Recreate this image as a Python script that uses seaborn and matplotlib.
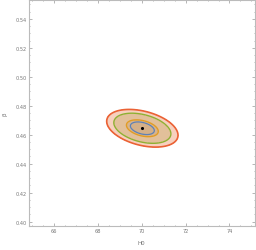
import numpy as np
import matplotlib
matplotlib.use("Agg")
import matplotlib.pyplot as plt
import seaborn as sns

# best-fit point and Gaussian shape of the posterior
center_h0 = [70.03]
center_beta = [0.4645]
sigma_h0 = 0.5
sigma_beta = 0.004
rho = -0.37

# Mahalanobis radii of the four contours (inner -> outer)
contour_radii = [1.09, 1.45, 2.6, 3.25]
line_colors = ["#5E81B5", "#E19C24", "#8FB032", "#EB6235"]
line_widths = [0.9, 1.0, 1.0, 1.2]
fill_colors = ["#D4B088", "#D8B48C", "#E2C09A", "#F7D0BE"]

x_ticks = [66, 68, 70, 72, 74]
y_ticks = [0.40, 0.42, 0.44, 0.46, 0.48, 0.50, 0.52, 0.54]
x_range = (64.85, 75.15)
y_range = (0.397, 0.553)

sns.set_style("ticks")
plt.rcParams["font.family"] = ["DejaVu Sans"]

fig = plt.figure(figsize=(2.56, 2.51), dpi=100)
ax = fig.add_axes([0.112, 0.0956, 0.883, 0.9])

gx = np.linspace(*x_range, 600)
gy = np.linspace(*y_range, 600)
X, Y = np.meshgrid(gx, gy)
u = (X - center_h0[0]) / sigma_h0
v = (Y - center_beta[0]) / sigma_beta
dist = np.sqrt((u**2 - 2 * rho * u * v + v**2) / (1 - rho**2))

ax.contourf(X, Y, dist, levels=[0] + contour_radii, colors=fill_colors)
for r, c, w in zip(contour_radii, line_colors, line_widths):
    ax.contour(X, Y, dist, levels=[r], colors=[c], linewidths=w)

sns.scatterplot(x=center_h0, y=center_beta, color="black", s=5, linewidth=0, ax=ax, zorder=5)

ax.set_xlim(*x_range)
ax.set_ylim(*y_range)
ax.set_xticks(x_ticks)
ax.set_yticks(y_ticks)
ax.set_xticklabels([str(t) for t in x_ticks])
ax.set_yticklabels([f"{t:.2f}" for t in y_ticks])
ax.set_xticks(np.arange(65, 75.01, 0.5), minor=True)
ax.set_yticks(np.arange(0.40, 0.5501, 0.005), minor=True)

ax.tick_params(which="both", direction="in", top=True, right=True,
               color="#999999", width=0.5, labelsize=3.6, labelcolor="#777777", pad=1.5)
ax.tick_params(which="major", length=2.0)
ax.tick_params(which="minor", length=1.0)
for s in ax.spines.values():
    s.set_color("#bbbbbb")
    s.set_linewidth(0.8)

ax.set_xlabel("H0", fontsize=4, color="#777777", labelpad=5)
ax.set_ylabel("β", fontsize=4, color="#777777", labelpad=6)

fig.savefig("out.png", dpi=100)
